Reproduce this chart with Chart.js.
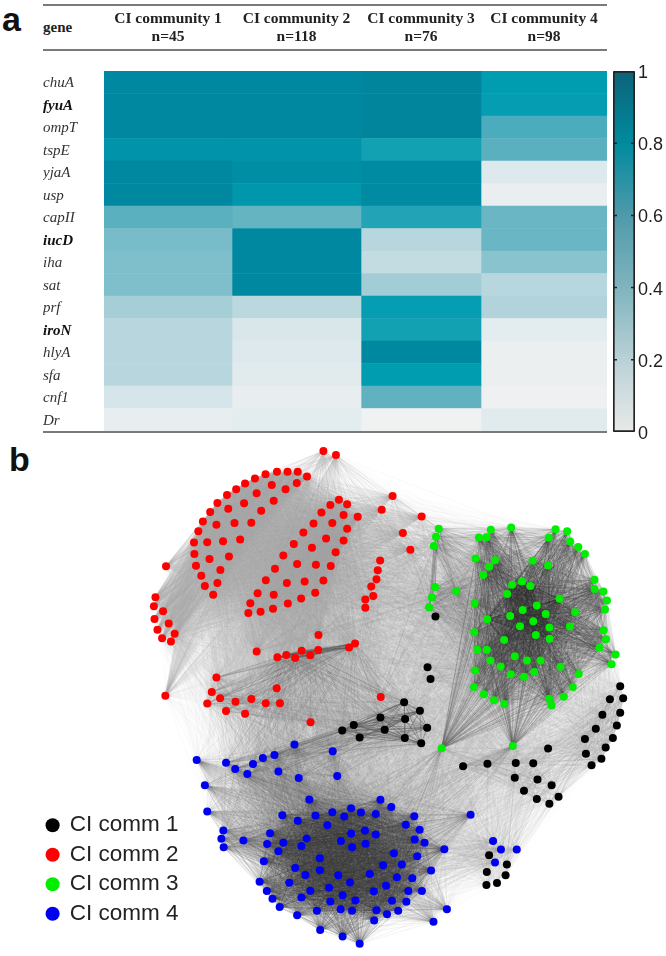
<!DOCTYPE html>
<html>
<head>
<meta charset="utf-8">
<title>CI communities</title>
<script src="https://cdn.jsdelivr.net/npm/chart.js@4"></script>
<style>
  html, body { margin: 0; padding: 0; background: #fff; }
  #page { position: relative; width: 666px; height: 956px; overflow: hidden; }
  canvas { position: absolute; filter: blur(0.4px); }
  .rule { position: absolute; left: 43px; width: 564px; height: 1.5px; background: #7a7a7a; }
  .panel { position: absolute; font: bold 34px "Liberation Sans", sans-serif; color: #111; }
  #geneHead { position: absolute; left: 43px; top: 19px; font: bold 15px "Liberation Serif", serif; color: #222; }
</style>
</head>
<body>
<div id="page">
  <div class="panel" style="left:2px;top:0px">a</div>
  <div class="panel" style="left:9px;top:440px">b</div>
  <div class="rule" style="top:4px"></div>
  <div class="rule" style="top:49px"></div>
  <div class="rule" style="top:431px"></div>
  <div id="geneHead">gene</div>
  <canvas id="heat" width="666" height="440" style="left:0;top:0"></canvas>
  <canvas id="bar" width="66" height="385" style="left:600px;top:60px"></canvas>
  <canvas id="net" width="666" height="516" style="left:0;top:440px"></canvas>
</div>
<script>
// panel a
const genes = ["chuA", "fyuA", "ompT", "tspE", "yjaA", "usp", "capII", "iucD", "iha", "sat", "prf", "iroN", "hlyA", "sfa", "cnf1", "Dr"];
const boldGenes = ["fyuA", "iucD", "iroN"];
const communities = ["CI community 1", "CI community 2", "CI community 3", "CI community 4"];
const communitySizes = ["n=45", "n=118", "n=76", "n=98"];
const comm1Heat = [0.87, 0.87, 0.87, 0.83, 0.87, 0.87, 0.50, 0.40, 0.38, 0.38, 0.26, 0.20, 0.20, 0.20, 0.12, 0.05];
const comm2Heat = [0.87, 0.87, 0.87, 0.83, 0.85, 0.82, 0.47, 0.87, 0.87, 0.87, 0.19, 0.11, 0.10, 0.08, 0.05, 0.07];
const comm3Heat = [0.88, 0.88, 0.88, 0.72, 0.86, 0.86, 0.67, 0.20, 0.17, 0.27, 0.78, 0.72, 0.87, 0.80, 0.48, 0.01];
const comm4Heat = [0.80, 0.78, 0.55, 0.50, 0.10, 0.04, 0.45, 0.45, 0.35, 0.20, 0.22, 0.07, 0.03, 0.03, 0.02, 0.08];
const colEdges = [0, 128, 257, 377, 503];
const barTicks = [0, 0.2, 0.4, 0.6, 0.8, 1];

// panel b: node layout, one list per visible module
const blackMid = [[405,702.3],[406,719.3],[405.7,738.7],[381,717.7],[385.3,730.3],[354,725.3],[360,738],[342.3,731],[421,711],[428.3,728.3],[422.3,744]];
const blackUp = [[428.7,666.7],[431.7,678.7],[436.7,615.3]];
const blackBottom = [[464.7,767.3],[489.3,764.7],[518,764],[535.7,764.3],[550.7,749.3],[517,779],[540,780.7],[554.3,786.7],[526.3,792.3],[539.3,800.7],[552,805.3],[561.3,798.3]];
const blackRight = [[623.7,686],[626.7,698.3],[613.3,699.3],[623.7,713],[605.7,715],[620.3,726],[599,729.3],[616.3,738.7],[588,739.7],[609,748.3],[589,754.7],[604.7,759.7],[594.7,766.3]];
const blackCorner = [[491,857.7],[509,867],[488.7,874.7],[507.7,878],[488.3,888],[499,886]];

const redLobeA = [[306.7,473],[297.3,468.3],[287,468.3],[276.3,468.3],[264.7,470.7],[254,475],[244,480],[235,486],[225.7,491.7],[216,500],[208.7,509],[201.3,518.7],[196.7,528.7],[192.3,540],[192.7,551.7],[194.3,563.7],[199.7,573.7],[203.3,584.3],[211.7,593],[216,581.3],[219,568],[227.7,554.3],[208,556.7],[205.7,539.7],[221.7,538.7],[239,537],[215,522],[233.3,520.3],[250.3,520],[227,505.7],[243,500.3],[260.3,507.7],[255.7,490],[273,497.7],[271,481.7],[285,486],[296.3,479.7]];
const redLobeB = [[358,514],[339,496.7],[347.3,501.3],[330.3,502],[321.3,509.7],[343.7,512],[313.3,520.7],[332.3,520.3],[347.3,526],[303,530],[326,536],[343.7,538],[293.3,541.7],[311.7,545.3],[335.7,550],[282.7,553.3],[296.7,562],[315.7,562.7],[330.7,564],[274.3,566.7],[265,578.3],[286.3,581.3],[304.3,579.7],[323.3,578.7],[256.7,591.7],[273,593],[315,591],[300.7,597],[287.3,602],[249.3,601.7],[247.3,611.7],[259.7,610.3],[272.3,607.3]];
const redTop = [[323.3,447],[336,451.3],[393.3,492.7],[382.3,506.7],[422.7,513.7],[403.7,530.3],[411.3,547.3],[318.3,634],[255.7,650.7],[381.3,697]];
const redLeft = [[164,564.3],[153.3,595.7],[151.7,604.7],[161,610],[152.3,617.7],[166.7,622.3],[155.3,628.7],[172.7,632.7],[160,637.3],[169,640.7],[163.3,695.7]];
const redLine = [[380.7,558.3],[378.3,568.3],[377,577.3],[371.7,584.7],[373.7,594.3],[365.7,598],[365.7,606.3]];
const redChain = [[276.7,656.7],[285.7,654.3],[294.7,657.3],[301.3,650],[310,654.7],[318,649.3],[349.3,646.7],[355.3,642.7]];
const redLow = [[215,677.3],[210.3,692],[218.7,698.3],[205.7,703.7],[224.7,711.3],[234.3,701.7],[244,714],[250.3,699],[265,703.3],[279.3,703.3],[276,688],[310.3,722.7]];

const greenEdge = [[440,526],[437.3,534.3],[435,543.7],[436.3,585.3],[433,596],[430.3,606],[457.7,589.3]];
const greenHub = [[443,749],[515,746.7]];
const greenCore = [[524.3,579.7],[514.3,583],[532.7,584.3],[509.3,592.3],[562.3,597.3],[539.3,604],[525,608.7],[548.3,612.7],[512.3,614.7],[489,618],[535.7,620],[522.3,625],[552,626.3],[538.3,634],[552.3,637.7],[506.3,639]];
const greenMain = [[492.7,527],[513.3,524.7],[480.7,535],[488.3,534.7],[558.3,526.7],[570,528.7],[551.3,535.3],[573,539],[581.3,544.7],[588,551.7],[477.3,556.3],[497,558],[535,558.7],[550.7,563.3],[491,564.7],[485,573],[597.7,578],[597.7,587.3],[606.7,589.7],[610.3,599],[476.3,601.7],[608.3,608],[578,611],[572.7,625.3],[607,629.3],[476,631.3],[609.3,638.3],[602.7,647],[479,649],[488.7,649],[619,653.7],[517,655.7],[529.3,660],[543,660],[492.3,660],[615,663.7],[502.7,666],[563.3,666.3],[476.7,670],[536.7,671.7],[581.7,673.7],[513,674],[526.3,676.3],[575.7,686.7],[475.7,686.7],[485.7,694.3],[566.7,696.7],[496,700.3],[551.7,698.7],[506.3,704],[554.3,705.7]];

const blueTop = [[224.7,763.7],[234,770],[252,765],[246.3,775.3],[262,759],[273.7,756],[294,745.3],[332.7,752],[277.7,772.7],[298.3,779.3],[337.3,777.3]];
const blueOuter = [[195,761],[203.3,786.7],[205.7,813.3],[472.3,816.7],[222,832.7],[220,841],[222.3,849.7],[242.3,842.7],[448.3,912.7],[434.7,925.3]];
const blueCorner = [[495,843.3],[503,852],[519,852],[497,865]];
const blueMain = [[309,801],[381,801.3],[392,808.7],[415.3,818],[281.7,817],[297.3,822.7],[315.3,817.3],[332.3,814],[344.3,818.3],[351.3,810],[361.3,814.3],[376.3,815.7],[327.3,827.3],[406.7,826.7],[420.7,831.7],[269.3,835.3],[266.3,846.3],[282.7,845],[277.7,853.7],[306.3,840.7],[301,848.3],[341,843.3],[351.3,835.7],[365.3,832.7],[376.3,836.7],[352.3,849.7],[366,846],[415.7,841.7],[425.7,845],[445.7,851.7],[394.7,855.7],[418.3,858.7],[319.7,860.7],[263,863.7],[383.7,868],[402.7,867],[294.7,870.7],[319.7,873],[432.3,873.3],[305,877.7],[338.3,878],[370.3,876.7],[397.7,880],[413.3,881],[258.7,884.7],[288.7,885.7],[350.3,885.3],[386.7,888.7],[329,890.7],[310,893.7],[266,894],[374.3,894.3],[409.3,894],[423,894],[301,900.7],[342.7,898.3],[271.7,902],[355.7,903.7],[330.3,904.7],[392.7,904],[407.3,905],[279,910.3],[316.7,914],[340.7,912.7],[352.3,914],[377,913.7],[387.7,917.7],[399,914],[296.7,918.7],[374.7,924],[320,933.7],[342.7,940.3],[360,947.7]];

const comm1Nodes = [...blackMid, ...blackUp, ...blackBottom, ...blackRight, ...blackCorner];
const comm2Nodes = [...redLobeA, ...redLobeB, ...redTop, ...redLeft, ...redLine, ...redChain, ...redLow];
const comm3Nodes = [...greenEdge, ...greenHub, ...greenCore, ...greenMain];
const comm4Nodes = [...blueTop, ...blueOuter, ...blueCorner, ...blueMain];
const allNodes = [...comm1Nodes, ...comm2Nodes, ...comm3Nodes, ...comm4Nodes];

// the individual edges can't be read from the picture, so links are drawn as
// bundles between modules that give about the same density of grey
// [from, to, keep every nth, width, stroke]
const edgeBundles = [
  [allNodes, allNodes, 4, 1, "rgba(135,135,135,0.027)"],
  [redLobeA, redLobeA, 1, 1.8, "rgba(160,160,160,0.17)"],
  [redLobeB, redLobeB, 1, 1.8, "rgba(160,160,160,0.2)"],
  [redLobeA, redLobeB, 1, 1.6, "rgba(170,170,170,0.07)"],
  [redLobeA, redLeft, 1, 1.6, "rgba(170,170,170,0.13)"],
  [redLobeB, redLeft, 1, 1.2, "rgba(170,170,170,0.05)"],
  [redLobeB, redLine, 1, 1, "rgba(160,160,160,0.08)"],
  [redLobeB, redChain, 1, 1.2, "rgba(170,170,170,0.09)"],
  [redLobeA, redChain, 1, 1.2, "rgba(170,170,170,0.05)"],
  [redLobeA, redLow, 1, 1, "rgba(170,170,170,0.04)"],
  [redLobeB, redLow, 1, 1, "rgba(170,170,170,0.05)"],
  [redTop, redLobeA, 1, 1, "rgba(160,160,160,0.08)"],
  [redTop, redLobeB, 1, 1, "rgba(160,160,160,0.1)"],
  [redTop, greenEdge, 1, 0.8, "rgba(130,130,130,0.14)"],
  [redLine, greenEdge, 1, 0.8, "rgba(140,140,140,0.1)"],
  [redChain, redChain, 1, 1.2, "rgba(70,70,70,0.3)"],
  [redChain, redLow, 1, 0.8, "rgba(90,90,90,0.15)"],
  [redLow, redLow, 1, 0.8, "rgba(110,110,110,0.14)"],
  [redChain, blackMid, 1, 0.8, "rgba(100,100,100,0.15)"],
  [redLow, blackMid, 1, 0.7, "rgba(120,120,120,0.07)"],
  [redChain, blueTop, 1, 0.8, "rgba(100,100,100,0.11)"],
  [redLow, blueTop, 1, 0.7, "rgba(110,110,110,0.1)"],
  [blackMid, blackMid, 1, 1, "rgba(70,70,70,0.35)"],
  [blackMid, blueTop, 1, 0.8, "rgba(90,90,90,0.12)"],
  [blueTop, blueTop, 1, 0.8, "rgba(100,100,100,0.16)"],
  [blueTop, blueMain, 1, 0.8, "rgba(90,90,90,0.07)"],
  [blueOuter, blueMain, 1, 0.8, "rgba(90,90,90,0.09)"],
  [blueOuter, blueTop, 1, 0.8, "rgba(110,110,110,0.1)"],
  [blueMain, blueMain, 1, 1, "rgba(50,50,50,0.105)"],
  [blueCorner, blueMain, 2, 0.8, "rgba(140,140,140,0.08)"],
  [blackBottom, blackBottom, 1, 1, "rgba(150,150,150,0.12)"],
  [blackRight, blackRight, 1, 1.2, "rgba(150,150,150,0.16)"],
  [blackRight, blackBottom, 1, 1, "rgba(150,150,150,0.1)"],
  [blackCorner, blackBottom, 1, 1, "rgba(160,160,160,0.09)"],
  [blackUp, greenMain, 3, 0.8, "rgba(130,130,130,0.1)"],
  [blackRight, greenMain, 2, 0.8, "rgba(150,150,150,0.05)"],
  [greenHub, greenMain, 1, 0.9, "rgba(90,90,90,0.28)"],
  [greenHub, blueMain, 2, 0.8, "rgba(110,110,110,0.14)"],
  [greenHub, blackBottom, 1, 0.8, "rgba(130,130,130,0.14)"],
  [greenEdge, greenEdge, 1, 1, "rgba(90,90,90,0.25)"],
  [greenEdge, greenMain, 1, 0.8, "rgba(90,90,90,0.1)"],
  [greenMain, greenMain, 1, 0.8, "rgba(60,60,60,0.1)"],
  [greenCore, greenMain, 1, 0.9, "rgba(50,50,50,0.16)"],
  [greenCore, greenCore, 1, 1.2, "rgba(40,40,40,0.25)"],
];

// stops of the cell colours, they are a bit brighter than the colour bar
const cellStops = [[0, [242,242,242]], [0.1, [221,233,236]], [0.2, [184,214,221]], [0.4, [120,188,201]], [0.5, [91,176,191]], [0.72, [18,160,179]], [0.8, [0,156,176]], [0.87, [0,136,160]], [1, [13,99,120]]];

function heatColor(v) {
  let i = 1;
  while (i < cellStops.length - 1 && cellStops[i][0] < v) i++;
  const [v0, c0] = cellStops[i - 1];
  const [v1, c1] = cellStops[i];
  const t = (v - v0) / (v1 - v0);
  const c = c0.map((ch, k) => Math.round(ch + (c1[k] - ch) * t));
  return `rgb(${c[0]},${c[1]},${c[2]})`;
}

const heatColumns = [comm1Heat, comm2Heat, comm3Heat, comm4Heat];

new Chart(document.getElementById("heat"), {
  type: "bar",
  data: {
    labels: genes,
    datasets: heatColumns.map((col, c) => ({
      label: communities[c],
      data: col.map(() => [colEdges[c], colEdges[c + 1]]),
      backgroundColor: (ctx) => heatColor(col[ctx.dataIndex]),
      grouped: false,
      barPercentage: 1,
      categoryPercentage: 1,
    })),
  },
  options: {
    responsive: false,
    animation: false,
    indexAxis: "y",
    layout: { padding: { left: 43, right: 59, top: 0, bottom: 9 } },
    plugins: { legend: { display: false }, tooltip: { enabled: false } },
    scales: {
      x: {
        position: "top",
        min: colEdges[0],
        max: colEdges[4],
        grid: { display: false, drawTicks: false },
        border: { display: false },
        afterBuildTicks: (scale) => {
          scale.ticks = communities.map((_, c) => ({ value: (colEdges[c] + colEdges[c + 1]) / 2 }));
        },
        afterFit: (scale) => { scale.height = 71; },
        ticks: {
          autoSkip: false,
          maxRotation: 0,
          padding: 25,
          color: "#222",
          font: { family: "Liberation Serif", weight: "bold", size: 15.5, lineHeight: 1.16 },
          callback: (value, i) => [communities[i], communitySizes[i]],
        },
      },
      y: {
        grid: { display: false, drawTicks: false },
        border: { display: false },
        afterFit: (scale) => {
          scale.width = 61;
          scale.paddingTop = 0;
          scale.paddingBottom = 0;
        },
        ticks: {
          crossAlign: "far",
          autoSkip: false,
          labelOffset: 1,
          color: (ctx) => (boldGenes.includes(genes[ctx.index]) ? "#111" : "#333"),
          font: (ctx) => ({
            family: "Liberation Serif",
            style: "italic",
            weight: boldGenes.includes(genes[ctx.index]) ? "bold" : "normal",
            size: 15,
          }),
        },
      },
    },
  },
});

const barTickPlugin = {
  id: "barTicks",
  afterDatasetsDraw(chart) {
    const { ctx, chartArea, scales: { y } } = chart;
    ctx.save();
    ctx.strokeStyle = "#222";
    ctx.lineWidth = 1.5;
    barTicks.slice(1, -1).forEach((v) => {
      const py = y.getPixelForValue(v);
      ctx.beginPath();
      ctx.moveTo(chartArea.left, py);
      ctx.lineTo(chartArea.left + 4, py);
      ctx.moveTo(chartArea.right - 4, py);
      ctx.lineTo(chartArea.right, py);
      ctx.stroke();
    });
    ctx.restore();
  },
};

new Chart(document.getElementById("bar"), {
  type: "bar",
  plugins: [barTickPlugin],
  data: {
    labels: ["scale"],
    datasets: [{
      data: [[barTicks[0], barTicks[5]]],
      barPercentage: 1,
      categoryPercentage: 1,
      borderWidth: 2,
      borderColor: "#222",
      borderRadius: 2,
      borderSkipped: false,
      backgroundColor: (ctx) => {
        const area = ctx.chart.chartArea;
        if (!area) return "#888";
        const g = ctx.chart.ctx.createLinearGradient(0, area.bottom, 0, area.top);
        g.addColorStop(0, "#e9e9e9");
        g.addColorStop(0.2, "#b9d1d6");
        g.addColorStop(0.4, "#80b4be");
        g.addColorStop(0.6, "#4f9aaa");
        g.addColorStop(0.8, "#008a9e");
        g.addColorStop(1, "#0d6378");
        return g;
      },
    }],
  },
  options: {
    responsive: false,
    animation: false,
    layout: { padding: { left: 13, right: 0, top: 11, bottom: 13 } },
    plugins: { legend: { display: false }, tooltip: { enabled: false } },
    scales: {
      x: { display: false },
      y: {
        position: "right",
        min: 0,
        max: 1,
        afterBuildTicks: (scale) => { scale.ticks = barTicks.map((value) => ({ value })); },
        afterFit: (scale) => {
          scale.width = 31;
          scale.paddingTop = 0;
          scale.paddingBottom = 0;
        },
        grid: { display: false, drawTicks: false },
        border: { display: false },
        ticks: {
          padding: 3,
          labelOffset: 2,
          color: "#222",
          font: { family: "Liberation Sans", size: 18 },
          callback: (v) => String(+v.toFixed(1)),
        },
      },
    },
  },
});

const edgesPlugin = {
  id: "edges",
  beforeDatasetsDraw(chart) {
    const { ctx, scales: { x, y } } = chart;
    ctx.save();
    ctx.lineCap = "round";
    edgeBundles.forEach(([from, to, nth, width, stroke]) => {
      ctx.lineWidth = width;
      ctx.strokeStyle = stroke;
      let n = 0;
      from.forEach((a, i) => {
        to.forEach((b, j) => {
          if (from === to && j <= i) return;
          if (++n % nth) return;
          ctx.beginPath();
          ctx.moveTo(x.getPixelForValue(a[0]), y.getPixelForValue(a[1]));
          ctx.lineTo(x.getPixelForValue(b[0]), y.getPixelForValue(b[1]));
          ctx.stroke();
        });
      });
    });
    ctx.restore();
  },
  // legend sits in the free corner left of the network
  afterLayout(chart) {
    chart.legend.left = 39.6;
    chart.legend.top = 367;
  },
};

const toPoints = (nodes) => nodes.map(([x, y]) => ({ x, y }));

new Chart(document.getElementById("net"), {
  type: "scatter",
  plugins: [edgesPlugin],
  data: {
    datasets: [
      { label: "CI comm 1", data: toPoints(comm1Nodes), backgroundColor: "#000000" },
      { label: "CI comm 2", data: toPoints(comm2Nodes), backgroundColor: "#ff0000" },
      { label: "CI comm 3", data: toPoints(comm3Nodes), backgroundColor: "#00ee00" },
      { label: "CI comm 4", data: toPoints(comm4Nodes), backgroundColor: "#0000f0" },
    ],
  },
  options: {
    responsive: false,
    animation: false,
    layout: { padding: 0 },
    elements: { point: { radius: 4, borderWidth: 0 } },
    plugins: {
      tooltip: { enabled: false },
      legend: {
        position: "chartArea",
        align: "start",
        labels: {
          usePointStyle: true,
          pointStyle: "circle",
          boxHeight: 10,
          boxWidth: 12,
          padding: 7,
          color: "#222",
          font: { family: "Liberation Sans", size: 22.5, lineHeight: 1 },
        },
      },
    },
    scales: {
      x: { display: false, min: 0, max: 666 },
      y: { display: false, min: 440, max: 956, reverse: true },
    },
  },
});
</script>
</body>
</html>
